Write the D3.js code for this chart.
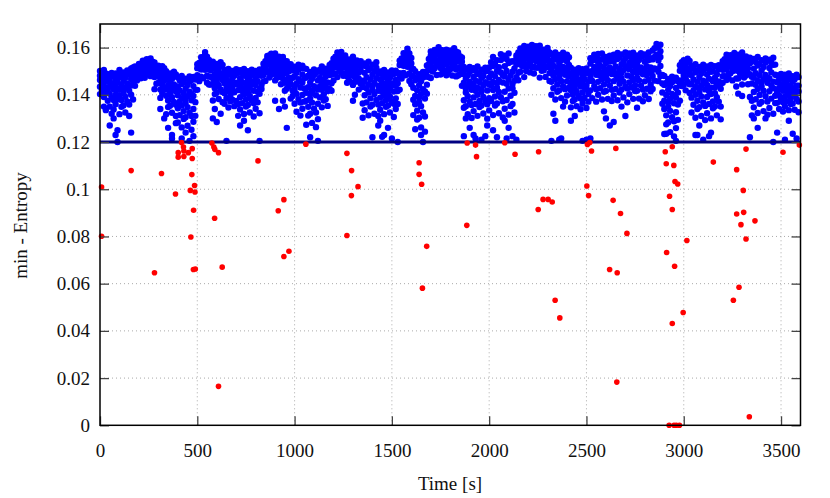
<!DOCTYPE html>
<html><head><meta charset="utf-8">
<script src="https://cdn.jsdelivr.net/npm/d3@7"></script>
<style>body{margin:0;background:#fff}svg{display:block}</style>
</head><body>
<svg id="chart" width="830" height="498"></svg>
<script>
// ---- data ----
const xTicks = [0, 500, 1000, 1500, 2000, 2500, 3000, 3500];
const xTickLabels = ["0", "500", "1000", "1500", "2000", "2500", "3000", "3500"];
const yTicks = [0, 0.02, 0.04, 0.06, 0.08, 0.1, 0.12, 0.14, 0.16];
const yTickLabels = ["0", "0.02", "0.04", "0.06", "0.08", "0.1", "0.12", "0.14", "0.16"];
const threshold = 0.12;
const xLabel = "Time [s]";
const yLabel = "min - Entropy";

// blue series: each row = [time (s), values in units of 1e-4 ...]
const blueRows = [
[0,1501,1481,1463,1434,1403],
[10,1495,1473,1449,1419],
[20,1505,1488,1456,1440,1391,1350],
[30,1491,1468,1428,1410,1335],
[40,1487,1459,1427,1416,1375],
[50,1469,1436,1404,1350,1270],
[60,1493,1479,1449,1388,1320],
[70,1483,1442,1424,1378,1338,1300],
[80,1490,1464,1439,1401,1360,1230],
[90,1482,1452,1421,1381,1200,1250],
[100,1505,1476,1425,1398,1318],
[110,1482,1444,1378,1349],
[120,1495,1460,1421,1407,1355],
[130,1472,1431,1392,1325],
[140,1503,1485,1448,1372],
[150,1491,1439,1417,1359,1310],
[160,1512,1490,1467,1440,1400,1240],
[170,1516,1494,1470,1446,1380],
[180,1520,1507,1485,1473,1438],
[190,1518,1502,1473,1461],
[200,1531,1516,1500,1494,1473],
[210,1527,1511,1496,1470],
[220,1545,1538,1523,1493],
[230,1543,1523,1514,1491,1472],
[240,1551,1538,1525,1507,1487],
[250,1549,1534,1519,1500],
[260,1554,1543,1522,1511,1479],
[270,1540,1524,1497,1485],
[280,1537,1522,1504,1498,1475,1424],
[290,1519,1499,1480,1447],
[300,1523,1513,1492,1450],
[310,1515,1479,1463,1422,1387,1340],
[320,1521,1497,1476,1442,1406],
[330,1513,1487,1460,1425,1300],
[340,1500,1472,1422,1396,1318],
[350,1478,1440,1376,1348,1260],
[360,1490,1456,1418,1404,1354],
[370,1468,1428,1390,1324,1230,1215],
[380,1498,1480,1444,1370],
[390,1486,1436,1414,1358,1310,1280],
[400,1473,1434,1398,1343,1283],
[410,1461,1418,1372,1314],
[420,1480,1446,1386,1355,1262,1215],
[430,1454,1408,1331,1298],
[440,1468,1427,1382,1365,1305,1240],
[450,1442,1394,1348,1269],
[460,1478,1456,1413,1324,1205],
[470,1463,1403,1377,1310,1252],
[480,1476,1437,1395,1340,1286,1225],
[490,1465,1421,1369,1311],
[500,1530,1513,1483,1468,1421],
[510,1535,1513,1475,1458],
[520,1559,1539,1516,1507,1477],
[530,1557,1532,1509,1470],
[540,1581,1570,1549,1506],
[550,1561,1530,1516,1481,1451],
[560,1548,1527,1507,1477,1444],
[570,1529,1504,1477,1443],
[580,1540,1515,1470,1446,1376,1300],
[590,1520,1486,1428,1403,1340],
[600,1531,1500,1466,1454,1409,1285],
[610,1511,1475,1441,1382],
[620,1538,1522,1490,1423,1320],
[630,1527,1482,1463,1412,1369],
[640,1505,1476,1449,1407,1362],
[650,1496,1463,1429,1386,1205],
[660,1510,1485,1440,1416,1346],
[670,1490,1456,1398,1373],
[680,1501,1470,1436,1424,1379],
[690,1481,1445,1411,1352],
[700,1508,1489,1451,1374],
[710,1495,1443,1420,1361,1311],
[720,1504,1470,1439,1390,1338,1270],
[730,1493,1455,1416,1365],
[740,1510,1481,1428,1401,1319,1290],
[750,1487,1447,1380,1350],
[760,1500,1464,1424,1409,1357,1250],
[770,1476,1434,1395,1325],
[780,1506,1486,1454,1377],
[790,1492,1446,1417,1364,1308],
[800,1501,1467,1442,1387,1341],
[810,1490,1458,1413,1368],
[820,1507,1484,1425,1404,1322,1205],
[830,1504,1481,1442,1425],
[840,1532,1513,1492,1484,1456],
[850,1542,1519,1497,1459],
[860,1565,1555,1536,1496],
[870,1567,1540,1528,1499,1473],
[880,1574,1556,1539,1513,1485],
[890,1560,1539,1518,1490],
[900,1575,1557,1526,1510,1461,1375],
[910,1550,1528,1490,1473],
[920,1562,1540,1516,1507,1475,1340],
[930,1538,1512,1488,1445],
[940,1560,1547,1522,1469,1375],
[950,1542,1507,1491,1451,1417,1350],
[960,1542,1518,1496,1463,1426,1260],
[970,1525,1499,1471,1436],
[980,1530,1508,1468,1447,1384],
[990,1504,1472,1418,1395],
[1000,1519,1479,1436,1420,1362],
[1010,1493,1447,1404,1328],
[1020,1528,1507,1466,1381],
[1030,1514,1456,1431,1367,1312],
[1040,1523,1486,1452,1399,1341],
[1050,1512,1470,1427,1371],
[1060,1510,1474,1409,1375,1273],
[1070,1481,1432,1349,1312],
[1080,1497,1453,1403,1385,1320,1220],
[1090,1468,1416,1367,1281],
[1100,1507,1484,1437,1341],
[1110,1492,1427,1398,1325,1263],
[1120,1502,1461,1422,1362,1297,1205],
[1130,1505,1471,1435,1389],
[1140,1520,1493,1446,1421,1347],
[1150,1499,1463,1402,1376],
[1160,1511,1478,1442,1429,1381],
[1170,1490,1452,1416,1353],
[1180,1526,1512,1484,1425],
[1190,1534,1500,1486,1449,1417],
[1200,1553,1535,1517,1490,1461],
[1210,1561,1539,1517,1489],
[1220,1580,1564,1535,1520,1475],
[1230,1574,1553,1517,1502],
[1240,1582,1560,1536,1527,1495],
[1250,1560,1538,1518,1481],
[1260,1567,1556,1535,1491],
[1270,1550,1522,1509,1478,1451],
[1280,1549,1531,1514,1488,1460],
[1290,1550,1530,1509,1482],
[1300,1561,1543,1510,1493,1442,1375],
[1310,1542,1517,1475,1456,1400],
[1320,1546,1524,1498,1489,1456],
[1330,1523,1495,1468,1422],
[1340,1542,1528,1502,1447],
[1350,1523,1460,1433,1363,1303],
[1360,1533,1493,1455,1398,1335],
[1370,1520,1475,1428,1368],
[1380,1540,1505,1443,1410,1313],
[1390,1513,1465,1385,1350],
[1400,1528,1485,1438,1420,1358,1220],
[1410,1500,1450,1403,1320],
[1420,1538,1515,1470,1378],
[1430,1491,1439,1417,1359,1310,1270],
[1440,1499,1466,1435,1388,1337,1290],
[1450,1489,1452,1413,1364,1222],
[1460,1505,1476,1425,1398,1318,1230],
[1470,1482,1444,1378,1349],
[1480,1495,1460,1421,1407,1355,1260],
[1490,1472,1431,1392,1325],
[1500,1503,1485,1448,1372,1215],
[1510,1488,1442,1414,1362,1306],
[1520,1502,1463,1438,1385,1340],
[1530,1492,1449,1416,1361,1200],
[1540,1545,1526,1492,1475,1422],
[1550,1554,1529,1487,1469],
[1560,1576,1555,1532,1523,1493],
[1570,1572,1547,1524,1483],
[1580,1595,1584,1563,1519],
[1590,1575,1542,1527,1490,1459],
[1600,1556,1533,1512,1480,1445],
[1610,1510,1478,1430,1379,1314],
[1620,1500,1462,1395,1360,1254],
[1630,1470,1419,1333,1295],
[1640,1487,1441,1389,1370,1303],
[1650,1457,1403,1352,1262,1230],
[1660,1497,1473,1424,1325,1200],
[1670,1481,1414,1384,1308,1244],
[1680,1524,1500,1477,1443,1405],
[1690,1552,1529,1505,1475],
[1700,1584,1567,1536,1520,1471],
[1710,1577,1554,1516,1499],
[1720,1590,1571,1549,1541,1513],
[1730,1570,1546,1524,1484],
[1740,1602,1592,1572,1532],
[1750,1589,1560,1547,1514,1486],
[1760,1589,1570,1551,1523,1492],
[1770,1576,1555,1532,1503],
[1780,1591,1574,1545,1529,1483],
[1790,1570,1547,1508,1491],
[1800,1588,1568,1546,1537,1508],
[1810,1569,1545,1522,1482],
[1820,1597,1587,1566,1525],
[1830,1583,1553,1540,1507,1478],
[1840,1580,1560,1542,1513,1482],
[1850,1564,1541,1517,1487],
[1860,1558,1540,1507,1489,1438],
[1870,1518,1488,1451,1377,1345,1225],
[1880,1509,1469,1426,1410,1352,1300],
[1890,1483,1437,1394,1318],
[1900,1518,1497,1456,1371,1260],
[1910,1504,1446,1421,1357,1302],
[1920,1513,1476,1442,1389,1331,1230],
[1930,1502,1460,1417,1361,1215],
[1940,1520,1488,1430,1400,1311],
[1950,1492,1454,1374,1348],
[1960,1506,1472,1423,1413,1355,1210],
[1970,1480,1440,1391,1321],
[1980,1515,1500,1453,1374,1225],
[1990,1501,1449,1418,1360,1299,1270],
[2000,1516,1473,1445,1386,1334],
[2010,1538,1490,1439,1374],
[2020,1560,1522,1455,1420,1314,1250],
[2030,1530,1479,1393,1355],
[2040,1547,1501,1449,1430,1363,1220],
[2050,1517,1463,1412,1322],
[2060,1572,1547,1495,1390],
[2070,1555,1484,1452,1373,1304],
[2080,1566,1521,1478,1413,1341,1290],
[2090,1552,1501,1447,1378,1215],
[2100,1575,1535,1464,1427,1316,1260],
[2110,1540,1482,1396,1352],
[2120,1542,1498,1446,1428,1361,1225],
[2130,1512,1460,1409,1325],
[2140,1567,1554,1528,1475,1210],
[2150,1579,1545,1531,1494,1462],
[2160,1596,1576,1558,1529,1498],
[2170,1594,1572,1550,1522],
[2180,1607,1587,1550,1532,1475],
[2190,1585,1560,1519,1501],
[2200,1604,1584,1562,1553,1524],
[2210,1584,1559,1536,1495],
[2220,1611,1597,1571,1517],
[2230,1597,1566,1553,1519,1490],
[2240,1606,1587,1570,1543,1515],
[2250,1591,1569,1545,1515],
[2260,1608,1587,1550,1531,1473],
[2270,1585,1561,1520,1502],
[2280,1591,1569,1545,1536,1504],
[2290,1573,1546,1520,1476],
[2300,1599,1587,1565,1518],
[2310,1579,1545,1530,1492,1459],
[2320,1573,1538,1505,1455,1400,1205],
[2330,1562,1523,1481,1428,1320],
[2340,1580,1549,1494,1466,1380,1290],
[2350,1556,1514,1444,1413],
[2360,1569,1532,1490,1474,1419,1210],
[2370,1545,1501,1459,1386,1215],
[2380,1578,1558,1518,1437,1350],
[2390,1565,1510,1485,1424,1371],
[2400,1570,1541,1502,1458,1397],
[2410,1559,1526,1478,1431],
[2420,1515,1489,1443,1419,1347,1290],
[2430,1495,1460,1400,1374],
[2440,1506,1474,1439,1426,1380,1310],
[2450,1485,1448,1413,1352],
[2460,1513,1497,1463,1395],
[2470,1502,1456,1435,1384,1339],
[2480,1509,1480,1452,1410,1363,1205],
[2490,1500,1467,1432,1387],
[2500,1512,1492,1440,1422,1344,1210],
[2510,1498,1457,1403,1371],
[2520,1555,1532,1490,1474,1419,1215],
[2530,1545,1501,1459,1386],
[2540,1570,1548,1518,1437],
[2550,1565,1510,1485,1424,1371],
[2560,1573,1538,1505,1455,1400],
[2570,1550,1523,1481,1428],
[2580,1575,1549,1494,1466,1380],
[2590,1556,1514,1444,1413,1330],
[2600,1560,1535,1487,1477,1416,1300],
[2610,1548,1498,1462,1383],
[2620,1566,1541,1515,1440,1270],
[2630,1560,1507,1488,1421,1374],
[2640,1570,1541,1502,1458,1397,1285],
[2650,1565,1520,1484,1425],
[2660,1577,1552,1491,1469,1377],
[2670,1559,1511,1447,1410],
[2680,1571,1529,1493,1471,1422,1350],
[2690,1542,1504,1456,1389],
[2700,1580,1555,1521,1434,1310],
[2710,1562,1513,1482,1427,1368],
[2720,1575,1535,1508,1452,1403],
[2730,1559,1526,1478,1431],
[2740,1578,1546,1497,1463,1383],
[2750,1553,1517,1441,1416],
[2760,1567,1534,1492,1472,1417,1345],
[2770,1547,1499,1461,1384],
[2780,1576,1560,1516,1439],
[2790,1564,1508,1487,1422,1373],
[2800,1571,1540,1503,1457,1398],
[2810,1563,1521,1483,1426],
[2820,1579,1547,1496,1464,1382],
[2830,1555,1516,1442,1415],
[2840,1588,1550,1505,1480,1425],
[2850,1598,1560,1512,1460],
[2860,1615,1600,1570,1508],
[2870,1605,1564,1545,1498,1458],
[2880,1612,1585,1560,1522,1480],
[2890,1484,1448,1410,1362],
[2900,1480,1442,1375,1340,1234],
[2910,1450,1399,1313,1275,1235],
[2920,1467,1421,1369,1350,1283],
[2930,1437,1383,1332,1242],
[2940,1477,1453,1404,1305],
[2950,1461,1394,1364,1288,1224],
[2960,1472,1429,1388,1326,1259,1205],
[2970,1458,1410,1359,1294],
[2980,1525,1502,1461,1439,1375],
[2990,1538,1509,1459,1437],
[3000,1547,1521,1491,1481,1442],
[3010,1530,1499,1470,1419],
[3020,1553,1540,1512,1454],
[3030,1544,1505,1488,1445,1408],
[3040,1523,1483,1445,1388,1325],
[3050,1510,1465,1418,1358],
[3060,1530,1495,1433,1400,1303,1230],
[3070,1503,1455,1375,1340,1230],
[3080,1518,1475,1428,1410,1348,1270],
[3090,1490,1440,1393,1310],
[3100,1528,1505,1460,1368,1210],
[3110,1513,1450,1423,1353,1293],
[3120,1520,1486,1442,1391,1322],
[3130,1507,1468,1415,1361,1225],
[3140,1527,1498,1430,1403,1300,1240],
[3150,1500,1458,1372,1343],
[3160,1521,1472,1431,1407,1351],
[3170,1487,1443,1390,1313],
[3180,1525,1508,1457,1371],
[3190,1516,1447,1426,1350,1296],
[3200,1542,1523,1506,1479,1451],
[3210,1551,1529,1507,1479],
[3220,1570,1553,1524,1509,1463],
[3230,1549,1526,1487,1470],
[3240,1568,1549,1527,1519,1491],
[3250,1548,1524,1501,1461],
[3260,1577,1566,1546,1503],
[3270,1559,1524,1508,1469,1435],
[3280,1570,1550,1530,1501,1469,1405],
[3290,1561,1540,1517,1489],
[3300,1579,1558,1521,1502,1444,1395],
[3310,1553,1529,1490,1473],
[3320,1563,1543,1520,1512,1482],
[3330,1538,1512,1488,1445],
[3340,1557,1534,1487,1391,1220],
[3350,1542,1477,1448,1375,1313],
[3360,1552,1511,1472,1412,1347,1300],
[3370,1539,1492,1443,1381],
[3380,1560,1524,1459,1425,1323,1260],
[3390,1531,1482,1399,1362],
[3400,1547,1503,1453,1435,1370],
[3410,1518,1466,1417,1331],
[3420,1554,1537,1484,1394,1300],
[3430,1545,1474,1451,1372,1316],
[3440,1549,1514,1469,1415,1344],
[3450,1536,1495,1440,1384],
[3460,1557,1527,1456,1428,1320,1200],
[3470,1528,1485,1396,1365],
[3480,1482,1453,1420,1408,1366,1240],
[3490,1463,1429,1397,1340],
[3500,1488,1473,1442,1380],
[3510,1478,1436,1417,1369,1329],
[3520,1485,1458,1432,1393,1351,1210],
[3530,1476,1446,1414,1373],
[3540,1490,1466,1424,1402,1335,1290],
[3550,1471,1439,1385,1361],
[3560,1479,1456,1417,1411,1363,1235],
[3570,1466,1426,1400,1337],
[3580,1485,1476,1439,1383,1215],
[3590,1475,1439,1414,1372,1326]
];

// red outliers (below threshold)
const redTime = [8,8,160,280,316,388,402,402,419,429,431,431,454,474,474,472,486,464,488,481,467,480,490,
575,585,590,609,589,628,609,812,916,945,945,971,1058,1269,1293,1326,1292,1269,
1640,1640,1653,1679,1657,1885,1887,1930,1935,2080,2133,2254,2252,2277,2303,2324,2339,2363,
2505,2517,2526,2502,2511,2651,2637,2675,2708,2619,2658,2656,
2905,2941,2910,2949,2955,2969,2927,2941,2912,2953,2997,2941,3016,2925,2950,2962,2978,
3152,3272,3306,3272,3308,3294,3366,3320,3320,3284,3255,3337,3510,3594];
const redValue = [0.1009,0.0801,0.1079,0.0646,0.1067,0.098,0.1155,0.1136,0.1198,0.1179,0.1162,0.1139,0.1155,0.1172,0.113,0.1062,0.1016,0.0995,0.0988,0.0911,0.0798,0.066,0.0662,
0.1196,0.1179,0.1169,0.1155,0.0877,0.067,0.0165,0.112,0.0909,0.0956,0.0715,0.0737,0.1191,0.1152,0.1079,0.1011,0.0973,0.0804,
0.1112,0.1063,0.1021,0.0758,0.0581,0.0847,0.1196,0.1187,0.1138,0.1197,0.1148,0.1159,0.0914,0.0957,0.0957,0.0946,0.053,0.0455,
0.119,0.1198,0.1162,0.1014,0.0973,0.1173,0.0953,0.0897,0.0813,0.066,0.0646,0.0183,
0.1159,0.118,0.1108,0.1101,0.1033,0.1022,0.097,0.0914,0.0732,0.0674,0.0478,0.0431,0.0783,0,0,0,0,
0.1115,0.1083,0.0995,0.0895,0.0902,0.085,0.0866,0.0789,0.117,0.0585,0.053,0.0036,0.1157,0.1187];

// ---- drawing ----
const svg = d3.select("#chart");
const W = 830, H = 498;
const m = {left: 100, right: 29.5, top: 24, bottom: 72.7};
const x = d3.scaleLinear().domain([0, 3600]).range([m.left, W - m.right]);
const y = d3.scaleLinear().domain([0, 0.17]).range([H - m.bottom, m.top]);
const font = "'Liberation Serif', 'DejaVu Serif', serif";

// grid
const grid = svg.append("g");
grid.selectAll("line.gx").data(xTicks.filter(d => d > 0)).enter().append("line")
  .attr("x1", d => x(d)).attr("x2", d => x(d)).attr("y1", y(0)).attr("y2", y(0.17))
  .attr("stroke", "#aaa").attr("stroke-width", 1).attr("stroke-dasharray", "1,3");
grid.selectAll("line.gy").data(yTicks.filter(d => d > 0)).enter().append("line")
  .attr("x1", x(0)).attr("x2", x(3600)).attr("y1", d => y(d)).attr("y2", d => y(d))
  .attr("stroke", "#aaa").attr("stroke-width", 1).attr("stroke-dasharray", "1,3");

// blue points
const bluePts = blueRows.flatMap(r => r.slice(1).map(v => ({t: r[0], v: v / 10000})));
svg.append("g").selectAll("circle").data(bluePts).enter().append("circle")
  .attr("cx", d => x(d.t)).attr("cy", d => y(d.v)).attr("r", 3.2).attr("fill", "#0000ff");

// threshold line
svg.append("line").attr("x1", x(0)).attr("x2", x(3600)).attr("y1", y(threshold)).attr("y2", y(threshold))
  .attr("stroke", "#000080").attr("stroke-width", 3);

// red points
svg.append("g").selectAll("circle").data(redTime.map((t, i) => ({t, v: redValue[i]}))).enter().append("circle")
  .attr("cx", d => x(d.t)).attr("cy", d => y(d.v)).attr("r", 2.8).attr("fill", "#ff0000");

// axes
function styleAxis(g) {
  g.select(".domain").remove();
  g.selectAll(".tick line").attr("stroke", "#444").attr("stroke-width", 1.3);
  g.selectAll(".tick text").attr("font-family", font).attr("font-size", 19).attr("fill", "#111");
}
svg.append("g").attr("transform", `translate(0,${y(0)})`)
  .call(d3.axisBottom(x).tickValues(xTicks).tickFormat((d, i) => xTickLabels[i]).tickSizeInner(-9).tickSizeOuter(0).tickPadding(18))
  .call(styleAxis);
svg.append("g").attr("transform", `translate(0,${y(0.17)})`)
  .call(d3.axisTop(x).tickValues(xTicks).tickFormat("").tickSizeInner(-9).tickSizeOuter(0))
  .call(styleAxis);
svg.append("g").attr("transform", `translate(${x(0)},0)`)
  .call(d3.axisLeft(y).tickValues(yTicks).tickFormat((d, i) => yTickLabels[i]).tickSizeInner(-9).tickSizeOuter(0).tickPadding(10))
  .call(styleAxis);
svg.append("g").attr("transform", `translate(${x(3600)},0)`)
  .call(d3.axisRight(y).tickValues(yTicks).tickFormat("").tickSizeInner(-9).tickSizeOuter(0))
  .call(styleAxis);

// frame
svg.append("rect").attr("x", x(0)).attr("y", y(0.17)).attr("width", x(3600) - x(0)).attr("height", y(0) - y(0.17))
  .attr("fill", "none").attr("stroke", "#000").attr("stroke-width", 1.5);

// titles
svg.append("text").attr("x", 450).attr("y", 490).attr("text-anchor", "middle")
  .attr("font-family", font).attr("font-size", 19).attr("fill", "#111").text(xLabel);
svg.append("text").attr("transform", "translate(27,225.5) rotate(-90)").attr("text-anchor", "middle")
  .attr("font-family", font).attr("font-size", 19).attr("fill", "#111").text(yLabel);
</script>
</body></html>
